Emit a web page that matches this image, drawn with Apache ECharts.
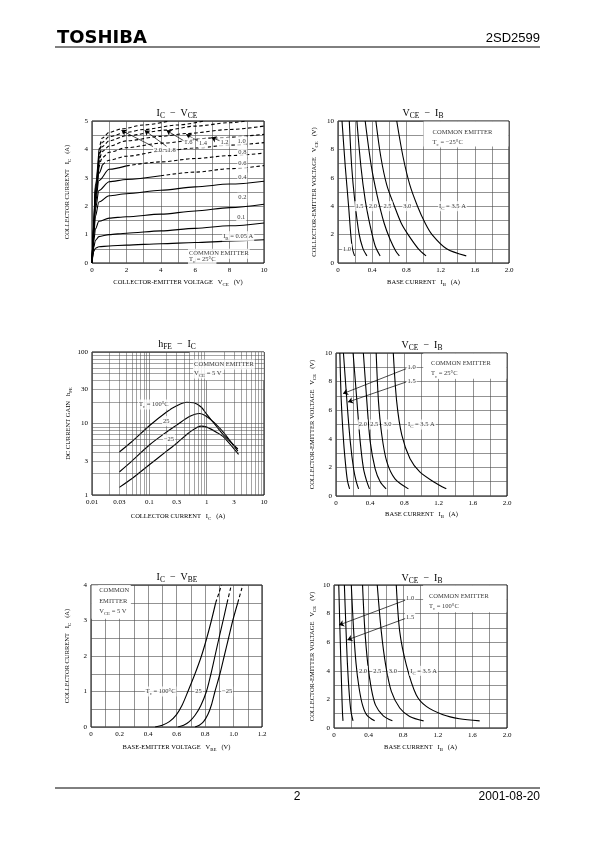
<!DOCTYPE html>
<html><head><meta charset="utf-8">
<script src="https://cdn.jsdelivr.net/npm/echarts@6/dist/echarts.min.js"></script>
<style>html,body{margin:0;padding:0;background:#fff}#c{width:595px;height:842px}</style>
</head><body><div id="c"></div>
<script>
// ---------- Chart 1: IC - VCE (Tc = 25°C), curves per IB (A) ----------
const icVceIbLabels = ['0.05','0.1','0.2','0.4','0.6','0.8','1.0','1.2','1.4','1.6','1.8','2.0'];
const icVceIb005 = [[0,0],[0.05,0.22],[0.1,0.4],[0.2,0.52],[0.4,0.57],[1,0.6],[2,0.63],[4,0.68],[6,0.72],[8,0.77],[10,0.82]];
const icVceIb01  = [[0,0],[0.05,0.3],[0.1,0.55],[0.2,0.8],[0.4,0.93],[1,1.0],[2,1.05],[4,1.13],[6,1.22],[8,1.31],[10,1.41]];
const icVceIb02  = [[0,0],[0.05,0.4],[0.1,0.75],[0.2,1.2],[0.4,1.47],[1,1.58],[2,1.63],[4,1.72],[6,1.83],[8,1.95],[10,2.07]];
const icVceIb04  = [[0,0],[0.05,0.5],[0.1,0.95],[0.2,1.65],[0.4,2.15],[1,2.37],[2,2.44],[4,2.56],[6,2.68],[8,2.78],[10,2.88]];
const icVceIb06  = [[0,0],[0.05,0.55],[0.1,1.05],[0.2,1.9],[0.4,2.55],[1,2.86],[2,2.94],[4,3.07],[6,3.2],[8,3.32],[10,3.43]];
const icVceIb08  = [[0,0],[0.05,0.6],[0.1,1.15],[0.2,2.1],[0.4,2.9],[1,3.3],[2,3.42],[4,3.56],[6,3.68],[8,3.78],[10,3.87]];
const icVceIb10  = [[0,0],[0.05,0.65],[0.1,1.2],[0.2,2.25],[0.4,3.15],[0.6,3.45],[1,3.62],[2,3.76],[4,3.93],[6,4.05],[8,4.15],[10,4.24]];
const icVceIb12  = [[0,0],[0.05,0.68],[0.1,1.25],[0.2,2.4],[0.4,3.35],[0.6,3.72],[1,3.9],[2,4.06],[4,4.22],[7,4.4],[10,4.53]];
const icVceIb14  = [[0,0],[0.05,0.7],[0.1,1.3],[0.2,2.5],[0.4,3.5],[0.6,3.93],[1,4.12],[2,4.3],[4,4.46],[5.5,4.56],[8,4.7],[10,4.82]];
const icVceIb16  = [[0,0],[0.05,0.72],[0.1,1.35],[0.2,2.6],[0.4,3.65],[0.6,4.1],[1,4.3],[2,4.48],[4.3,4.68],[6,4.82],[8,4.94],[9,5.0]];
const icVceIb18  = [[0,0],[0.05,0.74],[0.1,1.4],[0.2,2.7],[0.4,3.8],[0.6,4.25],[1,4.45],[2,4.6],[3,4.7],[5,4.86],[6.5,5.0]];
const icVceIb20  = [[0,0],[0.05,0.76],[0.1,1.45],[0.2,2.8],[0.4,3.95],[0.6,4.4],[1,4.6],[1.7,4.72],[3,4.86],[4.5,5.0]];
const icVceCurves = [icVceIb005,icVceIb01,icVceIb02,icVceIb04,icVceIb06,icVceIb08,icVceIb10,icVceIb12,icVceIb14,icVceIb16,icVceIb18,icVceIb20];
const icVceDashFrom = [null,null,null,null,4,2,0.6,0.4,0.4,0.4,0.4,0.4]; // VCE where curve turns dashed

// ---------- Chart 2: VCE - IB (Tc = -25°C), curves per IC (A) ----------
const vceIbM25Ic10 = [[0.047,10],[0.085,6.8],[0.124,4.0],[0.151,1.9],[0.171,0.95],[0.194,0.5]];
const vceIbM25Ic15 = [[0.132,10],[0.16,6.8],[0.195,4.45],[0.245,2.1],[0.29,1.05],[0.338,0.5]];
const vceIbM25Ic20 = [[0.221,10],[0.268,6.8],[0.318,4.45],[0.377,2.6],[0.435,1.2],[0.493,0.5]];
const vceIbM25Ic25 = [[0.318,10],[0.39,6.8],[0.46,4.7],[0.54,2.8],[0.61,1.65],[0.675,0.85],[0.718,0.5]];
const vceIbM25Ic30 = [[0.443,10],[0.5,7.5],[0.57,5.5],[0.66,4.0],[0.74,2.8],[0.82,2.0],[0.94,1.0],[1.03,0.5]];
const vceIbM25Ic35 = [[0.687,10],[0.76,7.5],[0.84,5.5],[0.93,4.0],[1.02,2.8],[1.1,2.0],[1.27,1.0],[1.5,0.5]];

// ---------- Chart 3: hFE - IC (VCE = 5 V) ----------
const hfeTc100 = [[0.03,4.0],[0.05,5.6],[0.1,9.3],[0.2,14.5],[0.3,17.7],[0.45,19.8],[0.6,19.5],[0.8,17],[1,13.5],[1.5,9],[2,6.8],[3.5,4.4]];
const hfeTc25  = [[0.03,2.1],[0.05,3.0],[0.1,5.0],[0.2,7.6],[0.3,9.5],[0.5,12.5],[0.75,13.8],[1,12.5],[1.5,9.5],[2,7.4],[3.5,4.1]];
const hfeTcM25 = [[0.03,1.28],[0.05,1.7],[0.1,2.65],[0.2,4.1],[0.3,5.3],[0.5,7.5],[0.8,9.2],[1,8.9],[1.5,7.5],[2,6.4],[3.6,3.7]];
const hfeXTicks = [0.01,0.03,0.1,0.3,1,3,10];
const hfeYTicks = [1,3,10,30,100];

// ---------- Chart 4: VCE - IB (Tc = 25°C) ----------
const vceIb25Ic10 = [[0.045,10],[0.062,6.6],[0.089,3.8],[0.117,1.9],[0.136,1.0],[0.159,0.5]];
const vceIb25Ic15 = [[0.087,10],[0.128,6.6],[0.167,3.8],[0.206,1.9],[0.237,1.0],[0.264,0.5]];
const vceIb25Ic20 = [[0.2,10],[0.245,6.6],[0.283,3.8],[0.322,1.9],[0.361,1.0],[0.392,0.5]];
const vceIb25Ic25 = [[0.32,10],[0.361,6.6],[0.4,3.8],[0.458,1.9],[0.517,1.0],[0.586,0.5]];
const vceIb25Ic30 = [[0.47,10],[0.497,6.6],[0.536,4.25],[0.594,2.4],[0.69,1.2],[0.847,0.5]];
const vceIb25Ic35 = [[0.67,10],[0.71,6.6],[0.77,4.25],[0.866,2.6],[0.98,1.68],[1.14,1.0],[1.29,0.5]];

// ---------- Chart 5: IC - VBE (VCE = 5 V) ----------
const vbeTc100 = [[0.45,0],[0.5,0.05],[0.55,0.15],[0.6,0.35],[0.64,0.62],[0.68,1.0],[0.73,1.5],[0.775,2.0],[0.812,2.5],[0.845,3.0],[0.875,3.5],[0.9,3.8],[0.915,4.0]];
const vbeTc25  = [[0.61,0],[0.65,0.05],[0.69,0.15],[0.73,0.33],[0.77,0.6],[0.81,1.0],[0.842,1.5],[0.87,2.0],[0.898,2.5],[0.927,3.0],[0.955,3.5],[0.985,4.0]];
const vbeTcM25 = [[0.73,0],[0.76,0.05],[0.79,0.15],[0.82,0.35],[0.845,0.62],[0.87,1.0],[0.905,1.5],[0.935,2.0],[0.965,2.5],[0.995,3.0],[1.03,3.5],[1.065,4.0]];
const vbeDashFromIc = 3.5;

// ---------- Chart 6: VCE - IB (Tc = 100°C) ----------
const vceIb100Ic10 = [[0.055,10],[0.068,7],[0.08,4.5],[0.09,2.5],[0.097,1.2],[0.104,0.5]];
const vceIb100Ic15 = [[0.12,10],[0.138,7],[0.155,4.5],[0.175,2.5],[0.195,1.2],[0.22,0.5]];
const vceIb100Ic20 = [[0.2,10],[0.225,7],[0.255,4.5],[0.29,2.8],[0.33,1.6],[0.38,0.9],[0.47,0.5]];
const vceIb100Ic25 = [[0.33,10],[0.355,7],[0.39,4.5],[0.43,2.8],[0.48,1.6],[0.57,0.85],[0.675,0.5]];
const vceIb100Ic30 = [[0.5,10],[0.547,6.74],[0.597,4.42],[0.663,2.56],[0.76,1.4],[0.875,0.81],[1.036,0.5]];
const vceIb100Ic35 = [[0.72,10],[0.76,6.74],[0.836,4.42],[0.95,2.33],[1.067,1.51],[1.26,0.93],[1.45,0.65],[1.684,0.5]];

// ================= rendering =================
const SERIF = "'Liberation Serif','DejaVu Serif',serif";
const SANS = "'Liberation Sans','DejaVu Sans',sans-serif";
function R(size){
  const ss = +(size*0.75).toFixed(1);
  return {
    n:{fontFamily:SERIF,fontSize:size,color:'#000',lineHeight:Math.round(size*1.5),verticalAlign:'middle'},
    s:{fontFamily:SERIF,fontSize:ss,color:'#000',lineHeight:Math.round(ss),verticalAlign:'bottom'}
  };
}
const nm = t => '{n|'+t+'}';
const sb = t => '{s|'+t+'}';

const gridsPx = [
  {left:92, top:121, width:172, height:142},
  {left:338, top:121, width:171, height:142},
  {left:92, top:352, width:172, height:143},
  {left:336, top:353, width:171, height:143},
  {left:91, top:585, width:171, height:142},
  {left:334, top:585, width:173, height:143}
];
const grid = gridsPx.map(g=>Object.assign({show:true,borderColor:'#000',borderWidth:1,backgroundColor:'transparent',containLabel:false,outerBoundsMode:'none'},g));

const GRIDLINE = {color:'#4a4a4a',width:0.6};
function lbl(every, dec){
  return v => {
    const q = v/every;
    if (Math.abs(q-Math.round(q))>1e-6) return '';
    if (Math.abs(v)<1e-9) return '0';
    return dec ? v.toFixed(dec) : String(Math.round(v));
  };
}
function linAxis(o){
  return {
    type:'value', gridIndex:o.g, min:o.min, max:o.max, interval:o.step,
    name:o.name, nameLocation:'middle', nameGap:o.gap,
    nameTextStyle:{fontFamily:SERIF,fontSize:6.5,color:'#000',rich:R(6.5)},
    axisLine:{show:false}, axisTick:{show:false},
    axisLabel:{show:true,fontFamily:SERIF,fontSize:7,color:'#000',margin:4,formatter:o.fmt,showMinLabel:true,showMaxLabel:true,hideOverlap:false},
    splitLine:{show:true,lineStyle:GRIDLINE}
  };
}
function logAxis(o){
  return {
    type:'log', logBase:10, gridIndex:o.g, min:o.min, max:o.max,
    name:o.name, nameLocation:'middle', nameGap:o.gap,
    nameTextStyle:{fontFamily:SERIF,fontSize:6.5,color:'#000',rich:R(6.5)},
    axisLine:{show:false}, axisTick:{show:false},
    axisLabel:{show:true,customValues:o.ticks,fontFamily:SERIF,fontSize:7,color:'#000',margin:4,
      formatter:v=>String(parseFloat(Number(v).toPrecision(2))),showMinLabel:true,showMaxLabel:true,hideOverlap:false},
    splitLine:{show:true,lineStyle:GRIDLINE}
  };
}
const nameVCEx = nm('COLLECTOR-EMITTER VOLTAGE   V')+sb('CE')+nm('   (V)');
const nameIB = nm('BASE CURRENT   I')+sb('B')+nm('   (A)');
const nameIC = nm('COLLECTOR CURRENT   I')+sb('C')+nm('   (A)');
const nameVCEy = nm('COLLECTOR-EMITTER VOLTAGE   V')+sb('CE')+nm('   (V)');

const xAxis = [
  linAxis({g:0,min:0,max:10,step:1,fmt:lbl(2,0),name:nameVCEx,gap:14}),
  linAxis({g:1,min:0,max:2,step:0.2,fmt:lbl(0.4,1),name:nameIB,gap:14}),
  logAxis({g:2,min:0.01,max:10,ticks:hfeXTicks,name:nameIC,gap:16}),
  linAxis({g:3,min:0,max:2,step:0.2,fmt:lbl(0.4,1),name:nameIB,gap:13}),
  linAxis({g:4,min:0,max:1.2,step:0.1,fmt:lbl(0.2,1),name:nm('BASE-EMITTER VOLTAGE   V')+sb('BE')+nm('   (V)'),gap:15}),
  linAxis({g:5,min:0,max:2,step:0.2,fmt:lbl(0.4,1),name:nameIB,gap:14})
];
const yAxis = [
  linAxis({g:0,min:0,max:5,step:0.5,fmt:lbl(1,0),name:nameIC,gap:20}),
  linAxis({g:1,min:0,max:10,step:1,fmt:lbl(2,0),name:nameVCEy,gap:19}),
  logAxis({g:2,min:1,max:100,ticks:hfeYTicks,name:nm('DC CURRENT GAIN   h')+sb('FE'),gap:18}),
  linAxis({g:3,min:0,max:10,step:1,fmt:lbl(2,0),name:nameVCEy,gap:19}),
  linAxis({g:4,min:0,max:4,step:0.5,fmt:lbl(1,0),name:nameIC,gap:19}),
  linAxis({g:5,min:0,max:10,step:1,fmt:lbl(2,0),name:nameVCEy,gap:17})
];

const series = [];
function curve(g, data, dashed, mono){
  const s = {type:'line',xAxisIndex:g,yAxisIndex:g,data:data,symbol:'none',showSymbol:false,
    smooth:0.3,silent:true,z:3,clip:true,
    lineStyle:{color:'#000',width:1.1,type:dashed?[3.5,2.5]:'solid'}};
  if (mono) s.smoothMonotone = mono;
  return s;
}
function whiteBox(g, x1, y1, x2, y2){
  series.push({type:'line',xAxisIndex:g,yAxisIndex:g,data:[],z:2,silent:true,
    markArea:{silent:true,itemStyle:{color:'#fff',borderWidth:0},label:{show:false},
      data:[[{xAxis:x1,yAxis:y1},{xAxis:x2,yAxis:y2}]]}});
}
function notes(g, items, arrows){
  const s = {type:'scatter',xAxisIndex:g,yAxisIndex:g,z:5,silent:true,symbolSize:1,
    itemStyle:{color:'rgba(0,0,0,0)'},
    data:items.map(it=>({value:[it[0],it[1]],text:it[2],label:{align:it[3]||'center'}})),
    label:{show:true,position:'inside',formatter:p=>p.data.text,rich:R(6.5),
      backgroundColor:'#fff',padding:[0,1],verticalAlign:'middle'}};
  if (arrows) s.markLine = {silent:true,symbol:['none','arrow'],symbolSize:5,label:{show:false},
    lineStyle:{color:'#000',width:0.7,type:'solid'},
    data:arrows.map(a=>[{coord:[a[0],a[1]]},{coord:[a[2],a[3]]}])};
  series.push(s);
}

// chart 1
icVceCurves.forEach((d,i)=>{
  const from = icVceDashFrom[i];
  if (from==null) { series.push(curve(0,d,false,'x')); return; }
  const k = d.findIndex(p=>p[0]>=from);
  series.push(curve(0,d.slice(0,k+1),false,'x'), curve(0,d.slice(k),true,'x'));
});
notes(0,[
  [8.7,4.3,nm(icVceIbLabels[6])],[8.74,3.89,nm(icVceIbLabels[5])],[8.74,3.5,nm(icVceIbLabels[4])],
  [8.74,3.01,nm(icVceIbLabels[3])],[8.74,2.3,nm(icVceIbLabels[2])],[8.68,1.6,nm(icVceIbLabels[1])],
  [8.5,0.94,nm('I')+sb('B')+nm(' = '+icVceIbLabels[0]+' A')],
  [7.7,4.25,nm(icVceIbLabels[7])],[6.45,4.21,nm(icVceIbLabels[8])],[5.6,4.24,nm(icVceIbLabels[9])],
  [4.63,3.98,nm(icVceIbLabels[10])],[3.84,3.98,nm(icVceIbLabels[11])],
  [5.58,0.33,nm('COMMON EMITTER'),'left'],[5.58,0.12,nm('T')+sb('c')+nm(' = 25°C'),'left']
],[
  [3.55,4.1,1.71,4.67],[4.35,4.1,3.06,4.67],[5.35,4.3,4.33,4.67],[6.2,4.28,5.48,4.53],[7.45,4.3,6.94,4.42]
]);

// chart 2
[vceIbM25Ic10,vceIbM25Ic15,vceIbM25Ic20,vceIbM25Ic25,vceIbM25Ic30,vceIbM25Ic35].forEach(d=>series.push(curve(1,d,false)));
whiteBox(1,1.0,8.2,1.993,9.97);
notes(1,[
  [1.095,9.2,nm('COMMON EMITTER'),'left'],[1.095,8.48,nm('T')+sb('c')+nm(' = −25°C'),'left'],
  [0.252,4,nm('1.5')],[0.408,4,nm('2.0')],[0.579,4,nm('2.5')],[0.81,4,nm('3.0')],
  [1.17,4,nm('I')+sb('C')+nm(' = 3.5 A'),'left'],[0.105,1.0,nm('1.0')]
]);

// chart 3 (log-log)
const minorX = []; [0.01,0.1,1].forEach(d=>{for(let k=2;k<=9;k++) minorX.push(+(k*d).toPrecision(2));});
const minorY = []; [1,10].forEach(d=>{for(let k=2;k<=9;k++) minorY.push(k*d);});
series.push({type:'line',xAxisIndex:2,yAxisIndex:2,data:[],z:1,silent:true,
  markLine:{silent:true,symbol:['none','none'],label:{show:false},lineStyle:{color:'#4a4a4a',width:0.5,type:'solid'},
    data:minorX.map(v=>({xAxis:v})).concat(minorY.map(v=>({yAxis:v})))}});
whiteBox(2,0.5,40,9.9,99);
[hfeTc100,hfeTc25,hfeTcM25].forEach(d=>series.push(curve(2,d,false)));
notes(2,[
  [0.58,67,nm('COMMON EMITTER'),'left'],[0.58,50,nm('V')+sb('CE')+nm(' = 5 V'),'left'],
  [0.226,18.5,nm('T')+sb('c')+nm(' = 100°C'),'right'],[0.198,10.8,nm('25')],[0.22,6.0,nm('−25')]
]);

// chart 4
[vceIb25Ic10,vceIb25Ic15,vceIb25Ic20,vceIb25Ic25,vceIb25Ic30,vceIb25Ic35].forEach(d=>series.push(curve(3,d,false)));
whiteBox(3,1.02,8.2,1.993,9.97);
notes(3,[
  [1.1,9.25,nm('COMMON EMITTER'),'left'],[1.1,8.55,nm('T')+sb('c')+nm(' = 25°C'),'left'],
  [0.885,8.97,nm('1.0')],[0.885,8.04,nm('1.5')],
  [0.315,5,nm('2.0')],[0.447,5,nm('2.5')],[0.602,5,nm('3.0')],[0.83,5,nm('I')+sb('C')+nm(' = 3.5 A'),'left']
],[[0.82,8.9,0.082,7.16],[0.82,7.97,0.14,6.57]]);

// chart 5
[vbeTc100,vbeTc25,vbeTcM25].forEach(d=>{
  const k = d.findIndex(p=>p[1]>=vbeDashFromIc);
  series.push(curve(4,d.slice(0,k+1),false), curve(4,d.slice(k),true));
});
whiteBox(4,0.004,3.05,0.28,3.99);
notes(4,[
  [0.05,3.86,nm('COMMON'),'left'],[0.05,3.55,nm('EMITTER'),'left'],[0.05,3.25,nm('V')+sb('CE')+nm(' = 5 V'),'left'],
  [0.6,1,nm('T')+sb('c')+nm(' = 100°C'),'right'],[0.755,1,nm('25')],[0.955,1,nm('−25')]
]);

// chart 6
[vceIb100Ic10,vceIb100Ic15,vceIb100Ic20,vceIb100Ic25,vceIb100Ic30,vceIb100Ic35].forEach(d=>series.push(curve(5,d,false)));
whiteBox(5,1.03,8.1,1.993,9.97);
notes(5,[
  [1.087,9.23,nm('COMMON EMITTER'),'left'],[1.087,8.49,nm('T')+sb('c')+nm(' = 100°C'),'left'],
  [0.88,9.07,nm('1.0')],[0.88,7.74,nm('1.5')],
  [0.335,4,nm('2.0')],[0.5,4,nm('2.5')],[0.68,4,nm('3.0')],[0.87,4,nm('I')+sb('C')+nm(' = 3.5 A'),'left']
],[[0.83,8.95,0.058,7.2],[0.83,7.67,0.154,6.16]]);

// page text
function ttl(x,y,text){
  return {type:'text',x:x,y:y,z:10,style:{text:text,rich:R(10),align:'center',verticalAlign:'middle',textAlign:'center',textVerticalAlign:'middle'}};
}
const graphic = [
  {type:'text',x:57,y:38,style:{text:'TOSHIBA',font:"bold 18px 'DejaVu Sans'",fill:'#000',verticalAlign:'middle',textVerticalAlign:'middle'}},
  {type:'text',x:540,y:38,style:{text:'2SD2599',font:"13px "+SANS,fill:'#000',align:'right',textAlign:'right',verticalAlign:'middle',textVerticalAlign:'middle'}},
  {type:'line',shape:{x1:55,y1:47,x2:540,y2:47},style:{stroke:'#000',lineWidth:1}},
  {type:'line',shape:{x1:55,y1:788,x2:540,y2:788},style:{stroke:'#000',lineWidth:1}},
  {type:'text',x:297,y:797,style:{text:'2',font:"12px "+SANS,fill:'#000',align:'center',textAlign:'center',verticalAlign:'middle',textVerticalAlign:'middle'}},
  {type:'text',x:540,y:797,style:{text:'2001-08-20',font:"12px "+SANS,fill:'#000',align:'right',textAlign:'right',verticalAlign:'middle',textVerticalAlign:'middle'}},
  ttl(177,113,nm('I')+sb('C')+nm('  −  V')+sb('CE')),
  ttl(423,113,nm('V')+sb('CE')+nm('  −  I')+sb('B')),
  ttl(177,344,nm('h')+sb('FE')+nm('  −  I')+sb('C')),
  ttl(422,345,nm('V')+sb('CE')+nm('  −  I')+sb('B')),
  ttl(177,577,nm('I')+sb('C')+nm('  −  V')+sb('BE')),
  ttl(422,578,nm('V')+sb('CE')+nm('  −  I')+sb('B'))
];

const chart = echarts.init(document.getElementById('c'), null, {renderer:'canvas',width:595,height:842});
chart.setOption({animation:false,backgroundColor:'#fff',grid:grid,xAxis:xAxis,yAxis:yAxis,series:series,graphic:graphic});
</script></body></html>
